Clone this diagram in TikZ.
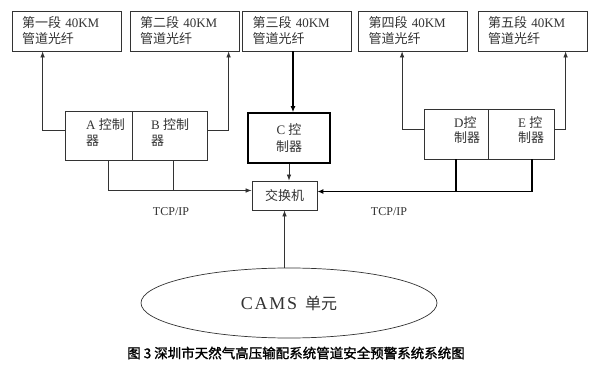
\documentclass[tikz,border=0pt]{standalone}
\usepackage{fontspec}
\setmainfont{Liberation Serif}
\newfontfamily\cjk{Noto Sans CJK SC}
\newfontfamily\cjkb{Noto Sans CJK SC}[FakeBold=1.5]
\usetikzlibrary{arrows.meta,shapes.geometric}
\newcommand\zh[1]{{\cjk #1}}
\definecolor{ink}{gray}{0.2}
\begin{document}
\begin{tikzpicture}[x=1pt,y=-1pt,
  fib/.style={draw=ink, line width=0.8pt, inner xsep=10pt, inner ysep=0pt,
    minimum height=40pt, text width=89pt, align=left,
    font=\fontsize{13}{16}\selectfont, text=ink},
  ctl/.style={draw=ink, line width=0.8pt, inner sep=0pt},
  txt/.style={inner sep=0pt, align=left, font=\fontsize{13}{16}\selectfont, text=ink},
  arr/.style={draw=ink, line width=0.7pt, -{Latex[length=6pt,width=4.5pt]}},
  ln/.style={draw=ink, line width=0.7pt},
  thk/.style={draw=black, line width=1.8pt}]
\fill[white] (0,0) rectangle (600,374);
\useasboundingbox (0,0) rectangle (600,374);

% fibre boxes
\node[fib] (b1) at (66.5,31) {\zh{第一段} 40KM\\\zh{管道光纤}};
\node[fib] (b2) at (184.5,31) {\zh{第二段} 40KM\\\zh{管道光纤}};
\node[fib] (b3) at (297,31) {\zh{第三段} 40KM\\\zh{管道光纤}};
\node[fib] (b4) at (413,31) {\zh{第四段} 40KM\\\zh{管道光纤}};
\node[fib] (b5) at (532.5,31) {\zh{第五段} 40KM\\\zh{管道光纤}};

% controllers
\node[ctl, minimum width=67pt, minimum height=49pt] (A) at (98.5,135.5) {};
\node[ctl, minimum width=75pt, minimum height=49pt] (B) at (169.5,135.5) {};
\node[ctl, line width=1.6pt, draw=black, minimum width=82pt, minimum height=50pt,
  align=center, font=\fontsize{13}{17}\selectfont, text=ink] (C) at (289,138)
  {C \zh{控}\\\zh{制器}};
\node[ctl, minimum width=64pt, minimum height=50pt] (D) at (456,134) {};
\node[ctl, minimum width=66pt, minimum height=50pt] (E) at (521,134) {};

\node[txt, anchor=base west] (tA) at (86,146) {A \zh{控制}\\\zh{器}};
\node[txt, anchor=base west] (tB) at (151,146) {B \zh{控制}\\\zh{器}};
\node[txt, anchor=base west, font=\fontsize{13}{15}\selectfont] (tD) at (454,143) {D\zh{控}\\\zh{制器}};
\node[txt, anchor=base west, font=\fontsize{13}{15}\selectfont] (tE) at (518,143) {E \zh{控}\\\zh{制器}};

% switch
\node[ctl, minimum width=65pt, minimum height=29pt, font=\fontsize{13}{16}\selectfont,
  text=ink] (sw) at (284.5,195.5) {\zh{交换机}};

% CAMS
\node[draw=ink, line width=0.7pt, ellipse, minimum width=296pt, minimum height=70pt,
  inner sep=0pt, text=ink] (cams) at (289,303)
  {{\fontsize{18}{20}\selectfont\addfontfeature{LetterSpace=10}CAMS}\hspace{8pt}{\cjk\fontsize{16}{20}\selectfont 单元}};

% labels
\node[inner sep=0pt, font=\fontsize{12}{14}\selectfont, text=ink] (tcp1) at (171,212) {TCP/IP};
\node[inner sep=0pt, font=\fontsize{12}{14}\selectfont, text=ink] (tcp2) at (389,212) {TCP/IP};
\node[inner sep=0pt, font=\cjkb\fontsize{13.5}{16}\selectfont] (cap) at (296,353)
  {图\hspace{3pt}3\hspace{3pt}深圳市天然气高压输配系统管道安全预警系统系统图};

% connectors to fibres
\draw[arr] ([yshift=5.5pt]A.west) -| ([xshift=31pt]b1.south west);
\draw[arr] ([yshift=5.5pt]B.east) -| ([xshift=99pt]b2.south west);
\draw[arr] ([yshift=5pt]D.west) -| ([xshift=44pt]b4.south west);
\draw[arr] ([yshift=5pt]E.east) -| ([xshift=88pt]b5.south west);
\coordinate (b3o) at ([xshift=-4pt]b3.south);
\draw[thk, -{Latex[length=6pt,width=5pt]}] (b3o) -- (b3o |- C.north);

% to switch
\draw[arr] (C.south) -- (C.south |- sw.north);
\coordinate (swl) at ([yshift=5pt]sw.west);
\coordinate (swr) at ([yshift=4pt]sw.east);
\coordinate (ao) at ([xshift=44pt]A.south west);
\coordinate (bo) at ([xshift=42pt]B.south west);
\draw[arr] (ao) |- (swl);
\draw[ln] (bo) -- (bo |- swl);
\coordinate (eo) at ([xshift=44pt]E.south west);
\draw[thk] (D.south) -- (D.south |- swr);
\draw[thk, -{Latex[length=6pt,width=5pt]}] (eo) |- (swr);
\draw[arr] (sw.south |- cams.north) -- (sw.south);
\end{tikzpicture}
\end{document}
